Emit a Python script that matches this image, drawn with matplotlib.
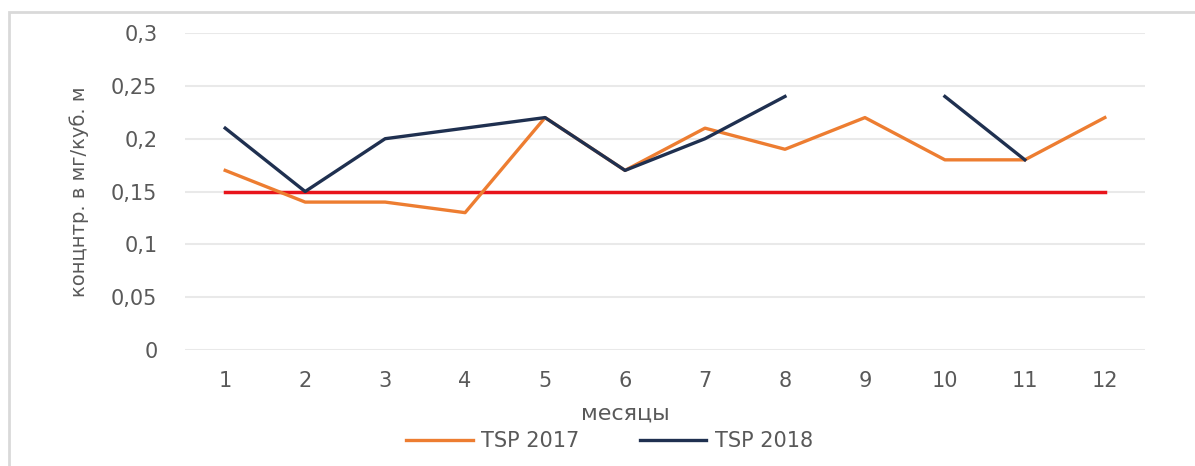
import numpy as np
import matplotlib
matplotlib.use("Agg")
import matplotlib.pyplot as plt
from matplotlib.patches import Rectangle
from matplotlib.ticker import FuncFormatter

plt.rcParams['font.family'] = ['DejaVu Sans']

months = list(range(1, 13))
tsp_2017 = [0.17, 0.14, 0.14, 0.13, 0.22, 0.17, 0.21, 0.19, 0.22, 0.18, 0.18, 0.22]
tsp_2018 = [0.21, 0.15, 0.20, 0.21, 0.22, 0.17, 0.20, 0.24, np.nan, 0.24, 0.18, np.nan]
limit = [0.15] * 12
y_ticks = [0, 0.05, 0.1, 0.15, 0.2, 0.25, 0.3]

grey = '#595959'

fig = plt.figure(figsize=(11.95, 4.66), dpi=100)
fig.patches.append(Rectangle((9 / 1195, -0.1), 1.2, 1 - 12 / 466 + 0.1,
                             transform=fig.transFigure, fill=False,
                             edgecolor='#d9d9d9', linewidth=2))
ax = fig.add_axes([0.155, 0.249, 0.803, 0.68])

ax.plot(months, limit, color='#e8141b', lw=2.5, zorder=2)
ax.plot(months, tsp_2017, color='#ed7d31', lw=2.4, label='TSP 2017', zorder=3)
ax.plot(months, tsp_2018, color='#1f3050', lw=2.4, label='TSP 2018', zorder=4)

ax.set_xlim(0.5, 12.5)
ax.set_ylim(0, 0.3)
ax.set_xticks(months)
ax.set_yticks(y_ticks)
ax.yaxis.set_major_formatter(FuncFormatter(lambda v, p: ('%g' % v).replace('.', ',')))
ax.grid(axis='y', color='#e9e9e9', lw=1.5)
ax.set_axisbelow(True)
for s in ax.spines.values():
    s.set_visible(False)
ax.tick_params(length=0, labelsize=15, colors=grey, pad=15)
ax.tick_params(axis='y', pad=20)

xl = ax.set_xlabel('месяцы', fontsize=16, color=grey)
xl.set_va('center')
ax.xaxis.set_label_coords(0.459, -0.202)
ax.set_ylabel('концнтр. в мг/куб. м', fontsize=14, color=grey)
ax.yaxis.set_label_coords(-0.10, 0.5)

fig.legend(loc='center', bbox_to_anchor=(0.51, 0.053), ncol=2, frameon=False,
           fontsize=15, labelcolor=grey, handlelength=3.2, handletextpad=0.4,
           columnspacing=2.9)

fig.savefig('out.png', dpi=100)
